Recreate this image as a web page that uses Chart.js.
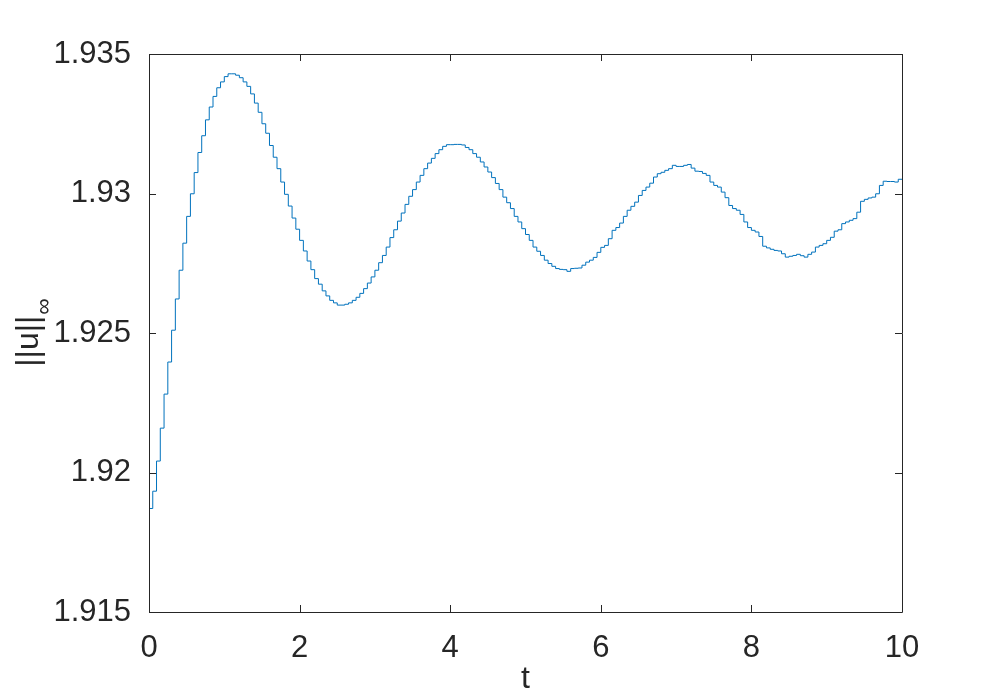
<!DOCTYPE html>
<html>
<head>
<meta charset="utf-8">
<script src="https://cdn.jsdelivr.net/npm/chart.js@4"></script>
<style>
  html, body { margin: 0; padding: 0; background: #fff; }
  #grafico { display: block; }
</style>
</head>
<body>
<canvas id="grafico" width="997" height="698"></canvas>
<script>
// passo de tempo entre amostras (escada)
const passoTempo = 0.05;

// ||u||_inf, t = 0, 0.05, ..., 10
const normaU = [
    1.91871, 1.91933, 1.92041, 1.92159, 1.92281, 1.92396, 1.92510, 1.92622, 1.92725, 1.92822,
    1.92918, 1.92999, 1.93075, 1.93147, 1.93207, 1.93264, 1.93310, 1.93348, 1.93379, 1.93400,
    1.93419, 1.93429, 1.93429, 1.93424, 1.93415, 1.93400, 1.93384, 1.93357, 1.93324, 1.93291,
    1.93250, 1.93216, 1.93172, 1.93130, 1.93089, 1.93041, 1.92997, 1.92955, 1.92912, 1.92872,
    1.92832, 1.92794, 1.92758, 1.92727, 1.92695, 1.92675, 1.92651, 1.92633, 1.92617, 1.92608,
    1.92600, 1.92600, 1.92603, 1.92608, 1.92617, 1.92628, 1.92642, 1.92659, 1.92679, 1.92701,
    1.92725, 1.92752, 1.92778, 1.92808, 1.92842, 1.92870, 1.92901, 1.92930, 1.92961, 1.92990,
    1.93014, 1.93041, 1.93065, 1.93089, 1.93109, 1.93126, 1.93143, 1.93157, 1.93169, 1.93175,
    1.93175, 1.93176, 1.93176, 1.93174, 1.93165, 1.93157, 1.93143, 1.93130, 1.93113, 1.93095,
    1.93077, 1.93057, 1.93036, 1.93014, 1.92987, 1.92967, 1.92946, 1.92918, 1.92898, 1.92874,
    1.92853, 1.92832, 1.92808, 1.92793, 1.92778, 1.92761, 1.92749, 1.92739, 1.92731, 1.92728,
    1.92727, 1.92721, 1.92731, 1.92732, 1.92733, 1.92743, 1.92754, 1.92761, 1.92771, 1.92789,
    1.92807, 1.92814, 1.92838, 1.92868, 1.92878, 1.92894, 1.92918, 1.92940, 1.92954, 1.92969,
    1.92993, 1.93011, 1.93023, 1.93037, 1.93059, 1.93071, 1.93076, 1.93083, 1.93089, 1.93101,
    1.93097, 1.93097, 1.93101, 1.93104, 1.93091, 1.93080, 1.93079, 1.93072, 1.93065, 1.93041,
    1.93029, 1.93023, 1.93005, 1.92985, 1.92957, 1.92946, 1.92940, 1.92925, 1.92898, 1.92878,
    1.92868, 1.92862, 1.92846, 1.92811, 1.92805, 1.92800, 1.92796, 1.92794, 1.92784, 1.92772,
    1.92775, 1.92778, 1.92782, 1.92777, 1.92772, 1.92782, 1.92790, 1.92808, 1.92814, 1.92820,
    1.92832, 1.92843, 1.92865, 1.92870, 1.92892, 1.92898, 1.92904, 1.92910, 1.92933, 1.92972,
    1.92979, 1.92984, 1.92987, 1.92999, 1.93029, 1.93044, 1.93043, 1.93043, 1.93041, 1.93051,
    1.93051
];

const ticksX = [0, 2, 4, 6, 8, 10];
const ticksY = [1.915, 1.92, 1.925, 1.93, 1.935];
const rotulosY = ['1.915', '1.92', '1.925', '1.93', '1.935'];

const corTexto = '#262626';
const fonte = '"Liberation Sans", Arial, Helvetica, sans-serif';

const pontos = normaU.map((v, i) => ({ x: i * passoTempo, y: v }));

// caixa + ticks para dentro nos 4 lados, e o rotulo do eixo y com subscrito
const moldura = {
    id: 'moldura',
    afterDatasetsDraw(chart) {
        const { ctx, chartArea: a, scales } = chart;
        const tam = 7;
        ctx.save();
        ctx.strokeStyle = corTexto;
        ctx.lineWidth = 1;
        ctx.beginPath();
        ctx.rect(Math.round(a.left) + 0.5, Math.round(a.top) + 0.5,
                 Math.round(a.right - a.left), Math.round(a.bottom - a.top));
        ctx.stroke();

        ctx.beginPath();
        ticksX.forEach(t => {
            const px = Math.round(scales.x.getPixelForValue(t)) + 0.5;
            ctx.moveTo(px, a.bottom); ctx.lineTo(px, a.bottom - tam);
            ctx.moveTo(px, a.top); ctx.lineTo(px, a.top + tam);
        });
        ticksY.forEach(v => {
            const py = Math.round(scales.y.getPixelForValue(v)) + 0.5;
            ctx.moveTo(a.left, py); ctx.lineTo(a.left + tam, py);
            ctx.moveTo(a.right, py); ctx.lineTo(a.right - tam, py);
        });
        ctx.stroke();

        // ||u||∞
        const cy = (a.top + a.bottom) / 2;
        ctx.translate(38, cy);
        ctx.rotate(-Math.PI / 2);
        ctx.fillStyle = corTexto;
        ctx.textBaseline = 'alphabetic';
        const base = '||u||';
        ctx.font = '32px ' + fonte;
        const w1 = ctx.measureText(base).width;
        ctx.font = '23px ' + fonte;
        const w2 = ctx.measureText('∞').width;
        const x0 = -(w1 + w2) / 2;
        ctx.font = '32px ' + fonte;
        ctx.fillText(base, x0, 0);
        ctx.font = '23px ' + fonte;
        ctx.fillText('∞', x0 + w1 + 1, 13);
        ctx.restore();
    }
};

new Chart(document.getElementById('grafico').getContext('2d'), {
    type: 'line',
    data: {
        datasets: [{
            data: pontos,
            borderColor: 'rgb(0, 114, 189)',
            borderWidth: 1,
            pointRadius: 0,
            stepped: true,
            fill: false
        }]
    },
    options: {
        responsive: false,
        animation: false,
        layout: { padding: { top: 54, right: 95, left: 0, bottom: 0 } },
        plugins: {
            legend: { display: false },
            tooltip: { enabled: false }
        },
        scales: {
            x: {
                type: 'linear',
                min: 0,
                max: 10,
                afterBuildTicks: s => { s.ticks = ticksX.map(v => ({ value: v })); },
                afterFit: s => { s.height = 86; },
                grid: { display: false },
                border: { display: false },
                ticks: {
                    color: corTexto,
                    font: { family: fonte, size: 31 },
                    padding: 10,
                    maxRotation: 0
                },
                title: {
                    display: true,
                    text: 't',
                    color: corTexto,
                    font: { family: fonte, size: 32 },
                    padding: { top: 0, bottom: 0 }
                }
            },
            y: {
                min: 1.915,
                max: 1.935,
                afterBuildTicks: s => { s.ticks = ticksY.map(v => ({ value: v })); },
                afterFit: s => { s.width = 149; },
                grid: { display: false },
                border: { display: false },
                ticks: {
                    color: corTexto,
                    font: { family: fonte, size: 31 },
                    padding: 10,
                    callback: (v, i) => rotulosY[i]
                }
            }
        }
    },
    plugins: [moldura]
});
</script>
</body>
</html>
